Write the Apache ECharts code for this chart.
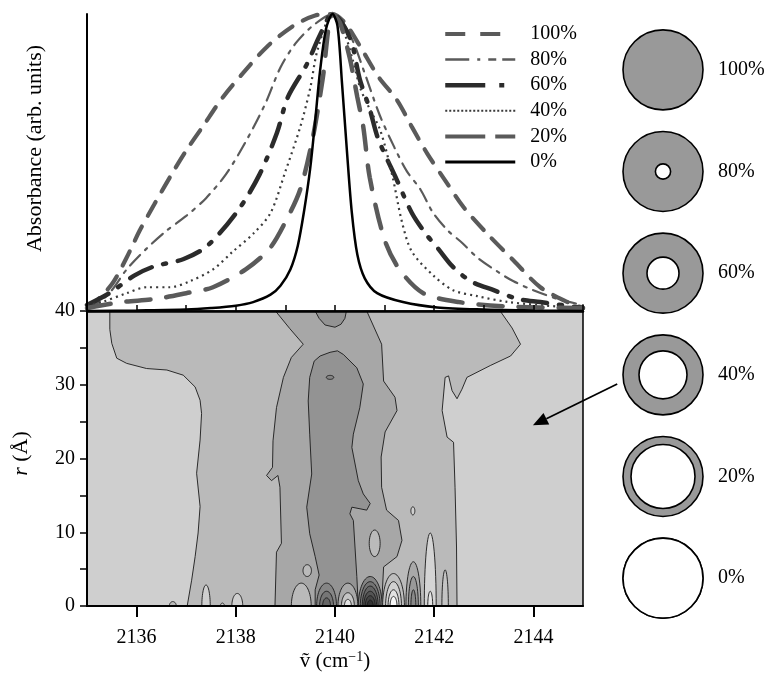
<!DOCTYPE html>
<html><head><meta charset="utf-8">
<script src="https://cdn.jsdelivr.net/npm/echarts@6/dist/echarts.min.js"></script>
<style>html,body{margin:0;padding:0;background:#fff}#c{width:767px;height:673px}</style>
</head><body><div id="c"></div>
<script>
const FONT = '"Liberation Serif", "DejaVu Serif", serif';

// ---- Top panel: absorbance spectra (normalised) ----
const seriesNames = ['100%', '80%', '60%', '40%', '20%', '0%'];
const spec100 = [[2135,0.01],[2135.1,0.02],[2135.5,0.09],[2135.8,0.18],[2136.06,0.27],[2136.36,0.36],[2136.67,0.45],[2137.0,0.54],[2137.33,0.62],[2137.74,0.72],[2138.14,0.80],[2138.63,0.89],[2139.16,0.96],[2139.6,0.995],[2139.95,1.0],[2140.2,0.97],[2140.51,0.89],[2140.87,0.79],[2141.25,0.71],[2141.55,0.62],[2141.86,0.53],[2142.22,0.44],[2142.59,0.35],[2143.07,0.26],[2143.6,0.17],[2144.14,0.08],[2144.69,0.03],[2145,0.01]];
const spec80 = [[2135,0.01],[2135.25,0.03],[2135.5,0.07],[2135.8,0.14],[2136.2,0.21],[2136.6,0.27],[2137.0,0.32],[2137.4,0.38],[2137.8,0.46],[2138.2,0.57],[2138.6,0.70],[2138.9,0.82],[2139.2,0.90],[2139.55,0.96],[2139.95,1.0],[2140.3,0.93],[2140.6,0.80],[2140.9,0.66],[2141.2,0.55],[2141.45,0.47],[2141.72,0.41],[2141.98,0.33],[2142.28,0.27],[2142.56,0.23],[2142.87,0.18],[2143.3,0.13],[2143.6,0.10],[2144.0,0.07],[2144.5,0.04],[2145,0.02]];
const spec60 = [[2135,0.02],[2135.45,0.06],[2135.96,0.12],[2136.35,0.15],[2136.95,0.175],[2137.43,0.22],[2138.05,0.34],[2138.48,0.46],[2138.83,0.60],[2139.05,0.72],[2139.43,0.83],[2139.7,0.93],[2139.95,1.0],[2140.3,0.92],[2140.5,0.78],[2140.7,0.68],[2140.87,0.58],[2141.25,0.44],[2141.55,0.33],[2141.83,0.26],[2142.08,0.21],[2142.37,0.15],[2142.74,0.10],[2143.2,0.07],[2143.7,0.04],[2144.14,0.03],[2145,0.01]];
const spec40 = [[2135,0.02],[2135.3,0.03],[2135.8,0.06],[2136.2,0.08],[2136.67,0.08],[2137.07,0.10],[2137.54,0.14],[2137.94,0.20],[2138.35,0.26],[2138.7,0.33],[2139.0,0.47],[2139.3,0.62],[2139.5,0.75],[2139.65,0.88],[2139.95,1.0],[2140.2,0.93],[2140.35,0.85],[2140.51,0.75],[2140.7,0.68],[2140.91,0.61],[2141.15,0.46],[2141.35,0.30],[2141.55,0.20],[2141.98,0.12],[2142.38,0.07],[2142.87,0.05],[2143.5,0.03],[2144.5,0.015],[2145,0.01]];
const spec20 = [[2135,0.01],[2135.7,0.03],[2136.36,0.04],[2137.0,0.06],[2137.54,0.08],[2138.2,0.14],[2138.68,0.21],[2139.0,0.30],[2139.3,0.41],[2139.56,0.59],[2139.75,0.78],[2139.95,1.0],[2140.1,0.97],[2140.3,0.85],[2140.45,0.72],[2140.57,0.62],[2140.7,0.45],[2141.0,0.24],[2141.3,0.14],[2141.78,0.06],[2142.5,0.03],[2143.5,0.015],[2145,0.01]];
const spec0 = [[2135,0],[2136,0.002],[2137,0.005],[2137.5,0.01],[2138,0.018],[2138.35,0.03],[2138.7,0.055],[2138.9,0.085],[2139.1,0.14],[2139.25,0.22],[2139.38,0.34],[2139.5,0.48],[2139.6,0.64],[2139.7,0.81],[2139.82,0.95],[2139.95,1.0],[2140.05,0.96],[2140.14,0.77],[2140.24,0.54],[2140.34,0.33],[2140.45,0.19],[2140.6,0.11],[2140.85,0.06],[2141.37,0.03],[2142.06,0.012],[2143,0.005],[2144,0.002],[2145,0]];

// ---- Bottom panel: contour regions in (wavenumber, r) ----
const contourL2 = [[2135.46,40],[2135.46,37.5],[2135.50,35.6],[2135.60,33.6],[2135.80,32.9],[2136.20,32.2],[2136.61,32.0],[2136.94,31.3],[2137.18,29.7],[2137.28,27.9],[2137.31,26.1],[2137.28,22.5],[2137.21,18.0],[2137.28,13.5],[2137.24,9.9],[2137.18,6.7],[2137.11,3.5],[2137.02,0],[2142.46,0],[2142.45,8],[2142.42,16.1],[2142.39,22.2],[2142.26,22.9],[2142.16,26.5],[2142.22,31.0],[2142.29,31.2],[2142.36,29.2],[2142.46,28.1],[2142.56,29.4],[2142.66,31.0],[2143.13,32.6],[2143.54,33.9],[2143.74,35.5],[2143.57,37.7],[2143.33,40]];
const contourL3 = [[2138.8,40],[2139.09,37.6],[2139.36,35.5],[2139.12,33.7],[2138.96,31.0],[2138.82,26.9],[2138.75,22.4],[2138.74,18.8],[2138.62,17.7],[2138.72,17.0],[2138.85,17.7],[2138.89,16.1],[2138.92,8.5],[2138.82,7.3],[2138.79,0],[2140.94,0],[2140.98,5.3],[2141.25,6.7],[2141.35,8.9],[2141.28,11.6],[2141.04,13.0],[2140.94,16.1],[2140.93,20.2],[2141.01,23.6],[2141.25,26.5],[2141.21,28.3],[2140.98,30.5],[2140.94,35.5],[2140.64,40]];
const contourL4 = [[2139.6,0],[2139.6,2.2],[2139.68,4.2],[2139.6,6.7],[2139.49,9.8],[2139.43,13.4],[2139.53,17.9],[2139.49,23.3],[2139.46,27.8],[2139.49,31.0],[2139.58,33.2],[2139.7,33.9],[2139.9,34.4],[2140.05,34.6],[2140.17,34.1],[2140.44,32.3],[2140.57,30.1],[2140.5,26.9],[2140.37,23.3],[2140.34,21.5],[2140.47,17.0],[2140.57,15.2],[2140.71,13.9],[2140.64,13.0],[2140.34,13.4],[2140.3,12.5],[2140.37,11.6],[2140.44,4.0],[2140.47,0]];
const contourNotch = [[2139.6,40],[2139.68,39],[2139.8,38.1],[2140.0,37.8],[2140.12,38.2],[2140.2,39.0],[2140.23,40]];

// closed loops: centre x, centre r, half-width (cm-1), half-height (Å)
const loopX = [2139.44, 2140.8, 2141.57, 2139.9];
const loopR = [4.8, 8.5, 12.9, 31.0];
const loopHW = [0.085, 0.11, 0.04, 0.075];
const loopHH = [0.8, 1.8, 0.55, 0.27];

// arches standing on r = 0: centre x, half-width, height
const archX = [2136.73,2137.4,2137.73,2138.03,2139.32,
  2139.83,2139.83,2139.83, 2140.26,2140.26,2140.26,
  2140.71,2140.71,2140.71,2140.71,2140.71,2140.71,
  2141.18,2141.18,2141.18,2141.18, 2141.58,2141.58,2141.58,
  2141.92,2141.92, 2142.22];
const archHW = [0.07,0.085,0.04,0.11,0.2,
  0.2,0.14,0.08, 0.2,0.13,0.07,
  0.24,0.2,0.16,0.13,0.1,0.06,
  0.22,0.16,0.11,0.07, 0.15,0.1,0.05,
  0.12,0.05, 0.065];
const archH = [0.6,2.85,0.4,1.7,3.1,
  3.1,2.0,1.1, 3.1,1.8,0.9,
  4.0,3.3,2.7,2.0,1.4,0.8,
  4.4,3.3,2.2,1.3, 6.0,4.0,2.2,
  9.9,2.0, 4.9];

// right-hand schematic
const circleLabels = ['100%', '80%', '60%', '40%', '20%', '0%'];
const holeFraction = [0, 0.19, 0.4, 0.6, 0.8, 1];
const arrowFrom = [2145.69, 30.1];
const arrowTo = [2143.99, 24.5];

// ---- styles ----
const L1 = '#cfcfcf', L2 = '#bababa', L3 = '#a7a7a7', L4 = '#939393';
const loopShade = [L2, L2, L1, '#858585'];
const archShade = [L2, L1, L1, L1, L2,
  '#858585','#767676','#666666', '#a8a8a8','#c4c4c4','#e2e2e2',
  '#848484','#747474','#646464','#545454','#444444','#333333',
  '#bebebe','#d0d0d0','#e2e2e2','#f6f6f6', '#a9a9a9','#999999','#888888',
  '#d4d4d4','#e4e4e4', '#c4c4c4'];
const lineStyles = [
  {color:'#5a5a5a', width:4.2, type:[16,12], cap:'round'},
  {color:'#5a5a5a', width:2.2, type:[14,7,3,7], cap:'round'},
  {color:'#2b2b2b', width:4.5, type:[24,12,3,12], cap:'round'},
  {color:'#3a3a3a', width:2.2, type:[2,4]},
  {color:'#5a5a5a', width:4.5, type:[24,16], cap:'round'},
  {color:'#000000', width:2.5, type:'solid'}
];
const legendLineStyles = [
  {color:'#5a5a5a', width:4, type:[20,15], cap:'butt'},
  {color:'#5a5a5a', width:2.5, type:[24,8,3,8,8,6], cap:'butt'},
  {color:'#2b2b2b', width:4.5, type:[40,14,5,14], cap:'butt'},
  {color:'#3a3a3a', width:2, type:[2,2], cap:'butt'},
  {color:'#5a5a5a', width:4, type:[40,10], cap:'butt'},
  {color:'#000000', width:3, type:'solid', cap:'butt'}
];
const specs = [spec100, spec80, spec60, spec40, spec20, spec0];

// build contour shape list (fill order = draw order)
const shapes = [
  {pts: contourL2, fill: L2},
  {pts: contourL3, fill: L3},
  {pts: contourL4, fill: L4},
  {pts: contourNotch, fill: L4}
];
for (let i = 0; i < loopX.length; i++) {
  const pts = [];
  for (let k = 0; k <= 40; k++) {
    const t = 2 * Math.PI * k / 40;
    pts.push([loopX[i] + loopHW[i] * Math.cos(t), loopR[i] + loopHH[i] * Math.sin(t)]);
  }
  shapes.push({pts, fill: loopShade[i]});
}
for (let i = 0; i < archX.length; i++) {
  const pts = [];
  for (let k = 0; k <= 30; k++) {
    const t = Math.PI * k / 30;
    pts.push([archX[i] + archHW[i] * Math.cos(t), archH[i] * Math.sin(t)]);
  }
  shapes.push({pts, fill: archShade[i]});
}

const chart = echarts.init(document.getElementById('c'), null, {renderer: 'canvas'});
const axisFont = {fontFamily: FONT, fontSize: 20, color: '#000'};

const lineSeries = seriesNames.map((n, i) => ({
  name: n, type: 'line', xAxisIndex: 0, yAxisIndex: 0,
  data: specs[i], showSymbol: false, symbol: 'none',
  smooth: 0.3, clip: false,
  itemStyle: {color: lineStyles[i].color},
  lineStyle: lineStyles[i], z: 3 + (i === 5 ? 1 : 0)
}));

const option = {
  animation: false,
  backgroundColor: '#fff',
  textStyle: {fontFamily: FONT},
  grid: [
    {left: 87, top: 14, width: 496, height: 297},
    {left: 87, top: 311, width: 496, height: 295, show: true, backgroundColor: L1, borderColor: '#000', borderWidth: 1.5},
    {left: 603, top: 19, width: 120, height: 610}
  ],
  legend: {
    data: seriesNames.map((n, i) => ({name: n, lineStyle: legendLineStyles[i]})),
    orient: 'vertical', left: 443, top: 24, padding: 0,
    itemWidth: 70, itemHeight: 14, itemGap: 5.6,
    itemStyle: {opacity: 0, borderWidth: 0},
    textStyle: Object.assign({padding: [0, 0, 0, 10], lineHeight: 20}, axisFont)
  },
  xAxis: [
    {gridIndex: 0, type: 'value', min: 2135, max: 2145, z: 10,
     axisLine: {show: true, lineStyle: {color: '#000', width: 2.5}},
     axisTick: {show: false}, axisLabel: {show: false}, splitLine: {show: false}},
    {gridIndex: 1, type: 'value', min: 2135, max: 2145, interval: 1, z: 10,
     axisLine: {lineStyle: {color: '#000', width: 2}},
     axisTick: {customValues: [2136, 2138, 2140, 2142, 2144], length: 11, lineStyle: {color: '#000', width: 2}},
     axisLabel: Object.assign({customValues: [2136, 2138, 2140, 2142, 2144], margin: 22, formatter: v => String(v)}, axisFont),
     splitLine: {show: false},
     name: 'ṽ (cm{sup|−1})', nameLocation: 'middle', nameGap: 44,
     nameTextStyle: Object.assign({rich: {sup: {fontFamily: FONT, fontSize: 14, color: '#000', verticalAlign: 'top', padding: [0, 0, 8, 0]}}}, axisFont, {fontSize: 21})},
    {gridIndex: 1, type: 'value', min: 2135, max: 2145, interval: 1, z: 10,
     axisLine: {show: false},
     axisTick: {length: 6, lineStyle: {color: '#000', width: 1.5}},
     axisLabel: {show: false}, splitLine: {show: false}},
    {gridIndex: 2, type: 'value', min: -1, max: 1, show: false}
  ],
  yAxis: [
    {gridIndex: 0, type: 'value', min: 0, max: 1, z: 10,
     axisLine: {show: true, lineStyle: {color: '#000', width: 2}},
     axisTick: {show: false}, axisLabel: {show: false}, splitLine: {show: false},
     name: 'Absorbance (arb. units)', nameLocation: 'middle', nameGap: 41,
     nameTextStyle: Object.assign({padding: [0, 0, 0, 28]}, axisFont, {fontSize: 22})},
    {gridIndex: 1, type: 'value', min: 0, max: 40, interval: 5, z: 10,
     axisLine: {lineStyle: {color: '#000', width: 2}},
     axisTick: {length: 7, lineStyle: {color: '#000', width: 1.5}},
     axisLabel: Object.assign({margin: 12, formatter: v => (v % 10 === 0 ? String(v) : '')}, axisFont),
     splitLine: {show: false},
     name: '{i|r} (Å)', nameLocation: 'middle', nameGap: 55,
     nameTextStyle: Object.assign({padding: [0, 0, 0, 10], rich: {i: {fontFamily: FONT, fontSize: 22, fontStyle: 'italic', color: '#000'}}}, axisFont, {fontSize: 22})},
    {gridIndex: 2, type: 'category', data: circleLabels, inverse: true, show: false}
  ],
  series: [
    ...lineSeries,
    {
      type: 'custom', xAxisIndex: 1, yAxisIndex: 1, clip: true, z: 2,
      data: shapes.map(s => s.pts[0]),
      renderItem: (params, api) => {
        const s = shapes[params.dataIndex];
        return {type: 'polygon', shape: {points: s.pts.map(p => api.coord(p))},
                style: {fill: s.fill, stroke: '#1a1a1a', lineWidth: 0.9}};
      }
    },
    {
      type: 'custom', xAxisIndex: 1, yAxisIndex: 1, clip: false, z: 12,
      data: [[arrowFrom[0], arrowFrom[1], arrowTo[0], arrowTo[1]]],
      renderItem: (params, api) => {
        const a = api.coord([api.value(0), api.value(1)]);
        const b = api.coord([api.value(2), api.value(3)]);
        const dx = b[0] - a[0], dy = b[1] - a[1];
        const L = Math.hypot(dx, dy), ux = dx / L, uy = dy / L;
        const hl = 15, hw = 6.5;
        const base = [b[0] - ux * hl, b[1] - uy * hl];
        return {type: 'group', children: [
          {type: 'line', shape: {x1: a[0], y1: a[1], x2: base[0], y2: base[1]}, style: {stroke: '#000', lineWidth: 1.8}},
          {type: 'polygon', shape: {points: [b, [base[0] - uy * hw, base[1] + ux * hw], [base[0] + uy * hw, base[1] - ux * hw]]}, style: {fill: '#000'}}
        ]};
      }
    },
    {
      type: 'custom', xAxisIndex: 3, yAxisIndex: 2, clip: false,
      data: circleLabels.map((l, i) => [0, i]),
      renderItem: (params, api) => {
        const i = params.dataIndex;
        const c = api.coord([0, i]);
        const R = 40;
        const kids = [
          {type: 'circle', shape: {cx: c[0], cy: c[1], r: R}, style: {fill: '#999999', stroke: '#000', lineWidth: 1.6}}
        ];
        if (holeFraction[i] > 0) {
          kids.push({type: 'circle', shape: {cx: c[0], cy: c[1], r: R * holeFraction[i]}, style: {fill: '#fff', stroke: '#000', lineWidth: 1.6}});
        }
        kids.push({type: 'text', style: {text: circleLabels[i], x: c[0] + 55, y: c[1], textAlign: 'left', textVerticalAlign: 'middle', font: '20px ' + FONT, fill: '#000'}});
        return {type: 'group', children: kids};
      }
    }
  ]
};
chart.setOption(option);
</script>
</body></html>
